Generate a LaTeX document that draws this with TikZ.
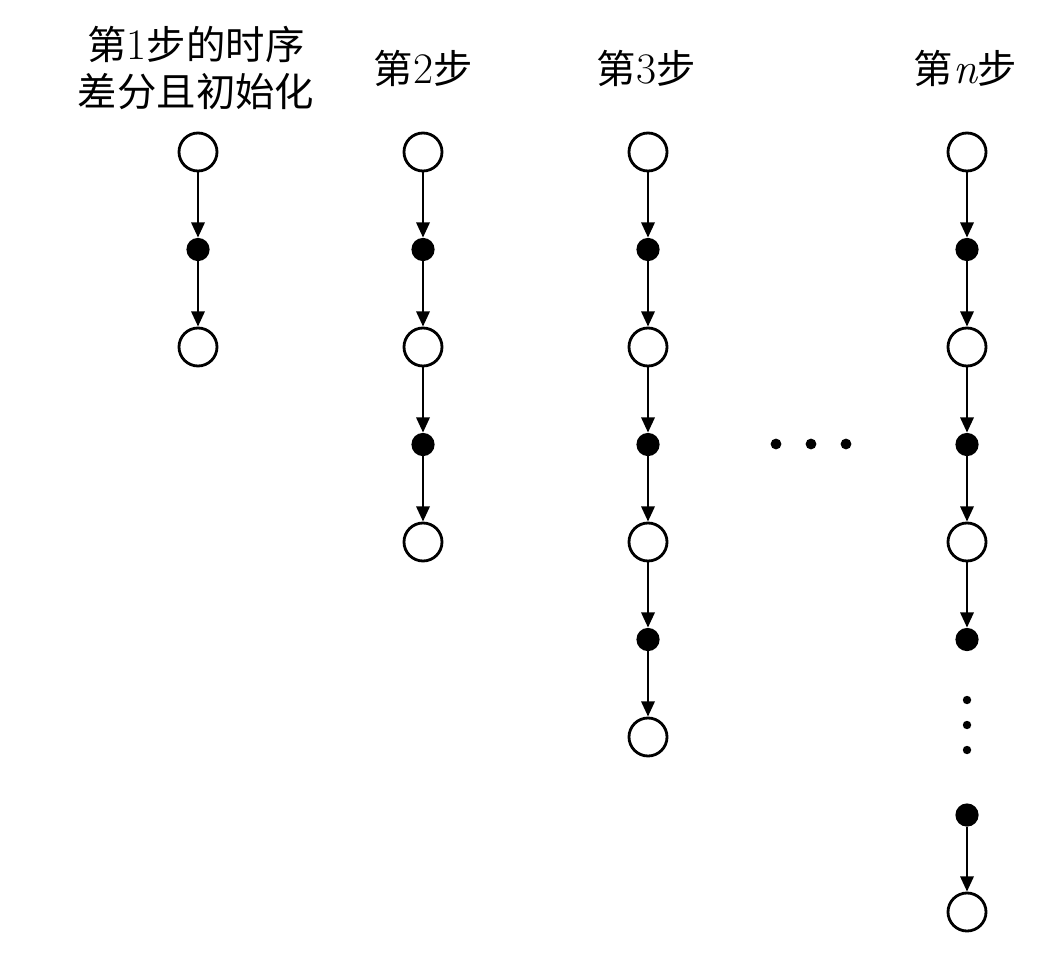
\documentclass[tikz,border=0pt]{standalone}
\usepackage{fontspec}
\newfontfamily\cjk{Noto Sans CJK SC}
\usetikzlibrary{arrows.meta}
\newcommand\stepno[1]{{\fontsize{31}{33}\selectfont\rmfamily#1}}
\tikzset{
  % states on each step
  open state/.style = {
    circle, draw, line width=2pt,
    minimum size=0.95cm, inner sep=0pt,
  },
  hit state/.style = {
    circle, fill, minimum size=0.58cm, inner sep=0pt,
  },
  % dots for the omitted parts
  gap dot/.style = {
    circle, fill, minimum size=#1, inner sep=0pt,
  },
  gap dot/.default=0.21cm,
  % transitions
  step arrow/.style = {
    line width=1.9pt,
    -{Triangle[length=0.38cm,width=0.33cm]},
  },
  % column titles
  step label/.style = {
    font=\fontsize{28}{34}\selectfont\cjk, align=center,
  },
}

\begin{document}
\begin{tikzpicture}[x=0.025cm, y=-0.025cm]
  \useasboundingbox (0,0) rectangle (1044,972);

  % titles
  \node[step label] (t1) at (196,68) {第\stepno{1}步的时序\\差分且初始化};
  \node[step label] (t2) at (423,68) {第\stepno{2}步};
  \node[step label] (t3) at (646,68) {第\stepno{3}步};
  \node[step label] (tn) at (965,68) {第\stepno{\itshape n}步};

  % chains of states
  \foreach \col/\x/\last in {1/198/2, 2/423/4, 3/648/6, n/967/5} {
    \foreach \r [evaluate=\r as \y using 152+97.5*\r] in {0,...,\last} {
      \ifodd\r
        \node[hit state] (c\col-\r) at (\x,\y) {};
      \else
        \node[open state] (c\col-\r) at (\x,\y) {};
      \fi
    }
    \foreach \r [remember=\r as \p (initially 0)] in {1,...,\last}
      \draw[step arrow] (c\col-\p) -- (c\col-\r);
  }

  % tail of the last step
  \foreach \y [count=\i] in {700,725,750}
    \node[gap dot] (v\i) at (967,\y) {};
  \node[hit state] (cn-7) at (967,815) {};
  \node[open state] (cn-8) at (967,912) {};
  \draw[step arrow] (cn-7) -- (cn-8);

  % steps left out
  \foreach \x [count=\i] in {776,811,846}
    \node[gap dot=0.27cm] (h\i) at (\x,444) {};
\end{tikzpicture}
\end{document}
